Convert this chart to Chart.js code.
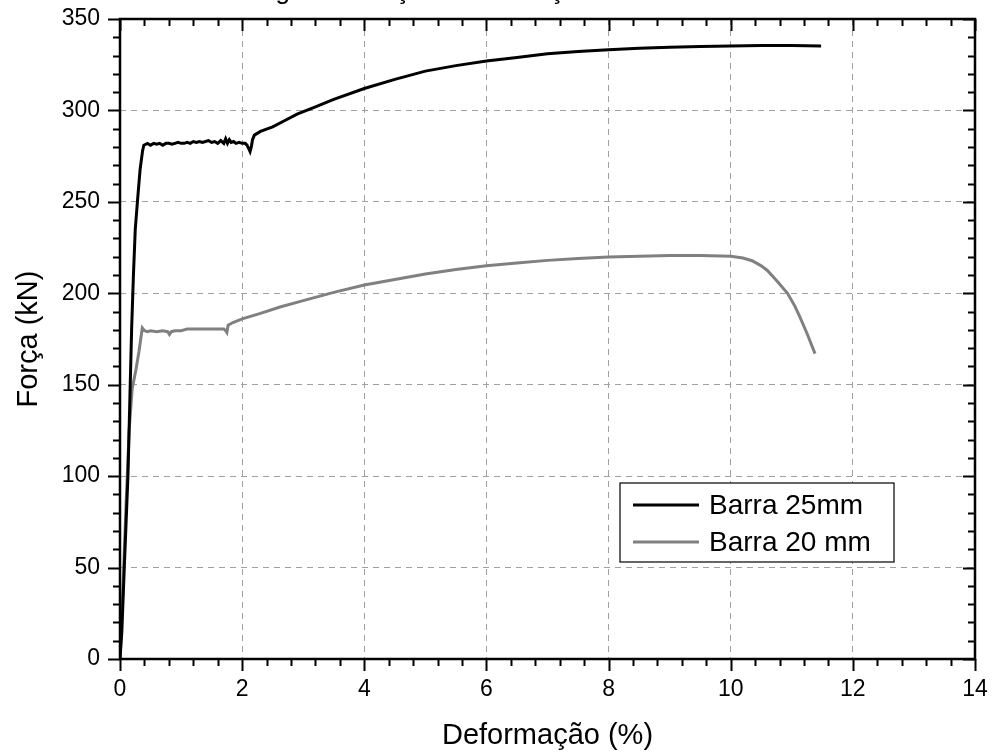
<!DOCTYPE html>
<html>
<head>
<meta charset="utf-8">
<script src="https://cdn.jsdelivr.net/npm/chart.js@4.4.1/dist/chart.umd.min.js"></script>
<style>
  body { margin: 0; background: #fff; }
  #wrap { width: 992px; height: 753px; }
</style>
</head>
<body>
<div id="wrap"><canvas id="forceChart" width="992" height="753"></canvas></div>
<script>
// Barra 25mm (black curve)
const bar25X = [0, 0.03, 0.07, 0.10, 0.13, 0.16, 0.19, 0.22, 0.25, 0.29, 0.33, 0.37, 0.39,
  0.45, 0.50, 0.55, 0.60, 0.65, 0.70, 0.75, 0.80, 0.85, 0.90, 0.95, 1.00, 1.05, 1.10, 1.15, 1.20,
  1.25, 1.30, 1.35, 1.40, 1.45, 1.50, 1.55, 1.60, 1.65, 1.70, 1.73, 1.76, 1.79, 1.82, 1.86, 1.90,
  1.95, 2.00, 2.05, 2.08, 2.11, 2.13, 2.15, 2.17, 2.20, 2.30, 2.50, 2.70, 2.90, 3.20, 3.50, 4.00,
  4.50, 5.00, 5.50, 6.00, 6.50, 7.00, 7.50, 8.00, 8.50, 9.00, 9.50, 10.00, 10.50, 11.00, 11.48];
const bar25Y = [0, 15, 50, 75, 100, 140, 180, 210, 235, 252, 268, 278, 281,
  282, 281, 282, 281.5, 282, 281, 282, 282, 281.5, 282, 282.5, 282, 282, 282.5, 282, 283,
  282.5, 283, 282.5, 283, 283.5, 282.5, 283, 282, 283.5, 282, 284.5, 282, 284, 282.5, 283, 282,
  282.5, 282, 282, 281, 279, 277.5, 280, 284, 286.5, 288.5, 291, 294.5, 298, 302, 306, 312,
  317, 321.5, 324.5, 327, 329, 331, 332.2, 333.2, 334, 334.6, 335, 335.3, 335.5, 335.5, 335.3];

// Barra 20 mm (grey curve)
const bar20X = [0, 0.05, 0.10, 0.15, 0.20, 0.26, 0.31, 0.365,
  0.40, 0.45, 0.50, 0.60, 0.70, 0.78, 0.81, 0.84, 0.90, 1.00, 1.05, 1.10, 1.20, 1.30, 1.40, 1.50,
  1.60, 1.70, 1.73, 1.75, 1.77, 1.85, 2.00, 2.30, 2.62, 3.00, 3.50, 4.00, 4.50, 5.00, 5.50, 6.00,
  6.50, 7.00, 7.50, 8.00, 8.50, 9.00, 9.50, 10.00, 10.20, 10.35, 10.50, 10.60, 10.75, 10.93, 11.05,
  11.13, 11.25, 11.38];
const bar20Y = [0, 40, 85, 125, 148, 158, 168, 181,
  179.5, 179, 179.5, 179, 179.5, 179, 177.5, 179, 179.5, 179.5, 180, 180.5, 180.5, 180.5, 180.5, 180.5,
  180.5, 180.5, 179.5, 178.5, 182.5, 184, 186, 189, 192.5, 196, 200.5, 204.5, 207.5, 210.5, 213, 215,
  216.5, 218, 219, 219.8, 220.3, 220.6, 220.6, 220.3, 219.3, 217.8, 215, 212.5, 207, 200, 193,
  187.2, 178, 167];

const seriesNames = ['Barra 25mm', 'Barra 20 mm'];
const seriesColors = ['#000000', '#808080'];

const xTicks = [0, 2, 4, 6, 8, 10, 12, 14];
const yTicks = [0, 50, 100, 150, 200, 250, 300, 350];
const xMinorStep = 0.4;
const yMinorStep = 10;

const chartTitle = 'Diagrama Força x Deformação';
const xTitle = 'Deformação (%)';
const yTitle = 'Força (kN)';

const FONT = '"Liberation Sans", Arial, sans-serif';

function toPoints(xs, ys) {
  return xs.map((x, i) => ({ x: x, y: ys[i] }));
}

// frame, mirrored ticks, legend box and the clipped title
const framePlugin = {
  id: 'frame',
  afterDatasetsDraw(chart) {
    const ctx = chart.ctx;

    // legend box
    const lx = 620, ly = 483, lw = 274, lh = 79;
    ctx.save();
    ctx.fillStyle = '#fff';
    ctx.fillRect(lx, ly, lw, lh);
    ctx.strokeStyle = '#000';
    ctx.lineWidth = 1.2;
    ctx.strokeRect(lx, ly, lw, lh);
    ctx.font = '28px ' + FONT;
    ctx.textBaseline = 'middle';
    chart.data.datasets.forEach((ds, i) => {
      const yy = 505 + i * 37;
      ctx.strokeStyle = ds.borderColor;
      ctx.lineWidth = 3;
      ctx.beginPath();
      ctx.moveTo(633, yy);
      ctx.lineTo(699, yy);
      ctx.stroke();
      ctx.fillStyle = '#000';
      ctx.fillText(ds.label, 709, yy + 1);
    });
    ctx.restore();
  },
  afterDraw(chart) {
    const ctx = chart.ctx;
    const a = chart.chartArea;
    const sx = chart.scales.x, sy = chart.scales.y;
    ctx.save();
    ctx.strokeStyle = '#000';

    // ticks: outside on left/bottom, inside on top/right
    ctx.lineWidth = 2;
    ctx.beginPath();
    const xMax = xTicks[xTicks.length - 1], yMax = yTicks[yTicks.length - 1];
    for (let k = 0; k * xMinorStep <= xMax + 1e-6; k++) {
      const v = +(k * xMinorStep).toFixed(3);
      const major = xTicks.includes(v);
      const px = Math.round(sx.getPixelForValue(v)) + 0.5;
      const len = major ? 12 : 7;
      ctx.moveTo(px, a.bottom); ctx.lineTo(px, a.bottom + len);
      ctx.moveTo(px, a.top); ctx.lineTo(px, a.top + len);
    }
    for (let k = 0; k * yMinorStep <= yMax + 1e-6; k++) {
      const v = k * yMinorStep;
      const major = yTicks.includes(v);
      const py = Math.round(sy.getPixelForValue(v)) + 0.5;
      const len = major ? 12 : 7;
      ctx.moveTo(a.left, py); ctx.lineTo(a.left - len, py);
      ctx.moveTo(a.right, py); ctx.lineTo(a.right - len, py);
    }
    ctx.stroke();

    // frame
    ctx.lineWidth = 2.5;
    ctx.strokeRect(a.left, a.top, a.right - a.left, a.bottom - a.top);

    // title, cut off by the top of the picture
    ctx.font = '26px ' + FONT;
    ctx.fillStyle = '#000';
    ctx.textBaseline = 'alphabetic';
    ctx.textAlign = 'left';
    const pre = chartTitle.slice(0, chartTitle.indexOf('ç'));
    const x0 = 402 - ctx.measureText(pre).width - ctx.measureText('ç').width / 2;
    ctx.fillText(chartTitle, x0, -1);
    ctx.restore();
  }
};

const ctx = document.getElementById('forceChart').getContext('2d');

new Chart(ctx, {
  type: 'scatter',
  data: {
    datasets: [
      {
        label: seriesNames[0],
        data: toPoints(bar25X, bar25Y),
        showLine: true,
        borderColor: seriesColors[0],
        backgroundColor: seriesColors[0],
        borderWidth: 3,
        pointRadius: 0,
        tension: 0
      },
      {
        label: seriesNames[1],
        data: toPoints(bar20X, bar20Y),
        showLine: true,
        borderColor: seriesColors[1],
        backgroundColor: seriesColors[1],
        borderWidth: 3,
        pointRadius: 0,
        tension: 0
      }
    ]
  },
  options: {
    responsive: false,
    animation: false,
    layout: { padding: { top: 19, right: 17, left: 0, bottom: 0 } },
    plugins: {
      legend: { display: false },
      tooltip: { enabled: false }
    },
    scales: {
      x: {
        type: 'linear',
        min: 0,
        max: 14,
        afterBuildTicks: s => { s.ticks = xTicks.map(v => ({ value: v })); },
        afterFit: s => { s.height = 94; s.paddingLeft = 0; s.paddingRight = 0; },
        grid: { color: '#a0a0a0', lineWidth: 1, drawTicks: false },
        border: { display: false, dash: [6, 5] },
        ticks: { color: '#000', padding: 17, maxRotation: 0, font: { family: FONT, size: 23 } },
        title: {
          display: true,
          text: xTitle,
          color: '#000',
          font: { family: FONT, size: 29 },
          padding: { top: 0, bottom: 0 }
        }
      },
      y: {
        type: 'linear',
        min: 0,
        max: 350,
        afterBuildTicks: s => { s.ticks = yTicks.map(v => ({ value: v })); },
        afterFit: s => { s.width = 120; s.paddingTop = 0; s.paddingBottom = 0; },
        grid: { color: '#a0a0a0', lineWidth: 1, drawTicks: false },
        border: { display: false, dash: [6, 5] },
        ticks: { color: '#000', padding: 20, font: { family: FONT, size: 23 } },
        title: {
          display: true,
          text: yTitle,
          color: '#000',
          font: { family: FONT, size: 29 },
          padding: { top: 12, bottom: 0 }
        }
      }
    }
  },
  plugins: [framePlugin]
});
</script>
</body>
</html>
